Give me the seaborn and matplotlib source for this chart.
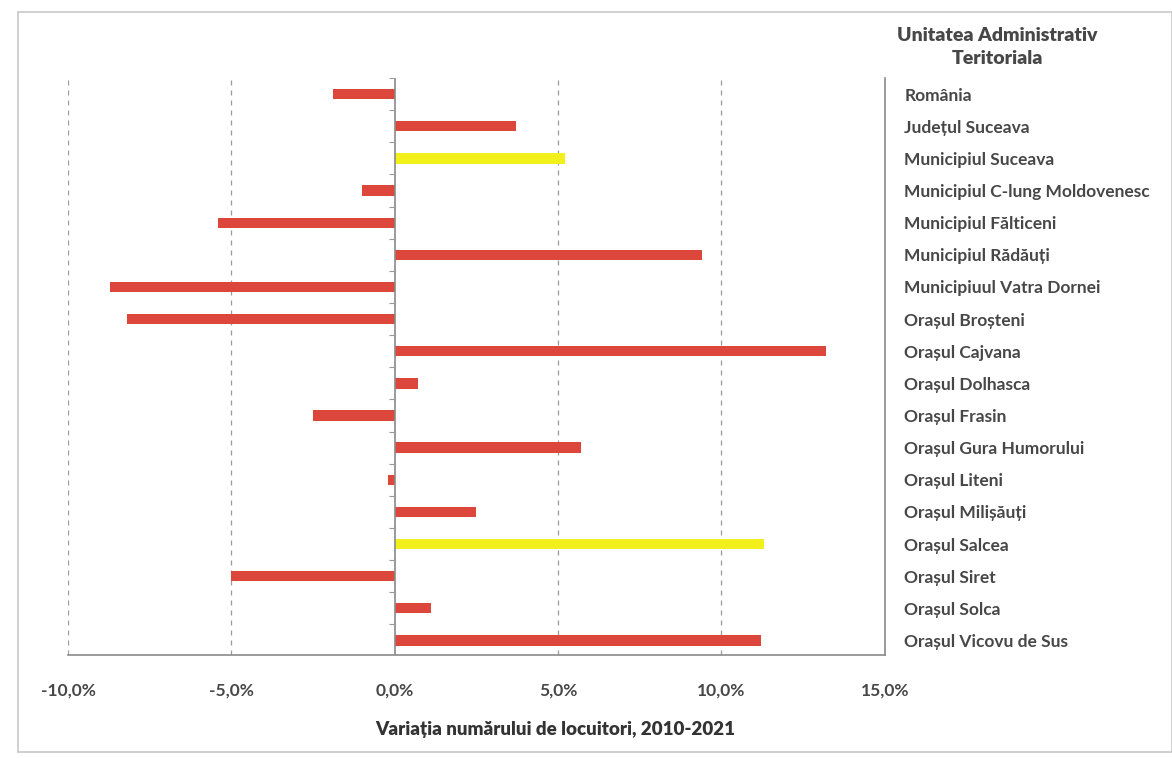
import matplotlib
matplotlib.use("Agg")
import matplotlib.pyplot as plt
import seaborn as sns
import pandas as pd
import numpy as np
from matplotlib.patches import Rectangle
from matplotlib.ticker import FuncFormatter

unitati = ["România", "Județul Suceava", "Municipiul Suceava",
           "Municipiul C-lung Moldovenesc", "Municipiul Fălticeni",
           "Municipiul Rădăuți", "Municipiuul Vatra Dornei", "Orașul Broșteni",
           "Orașul Cajvana", "Orașul Dolhasca", "Orașul Frasin",
           "Orașul Gura Humorului", "Orașul Liteni", "Orașul Milișăuți",
           "Orașul Salcea", "Orașul Siret", "Orașul Solca", "Orașul Vicovu de Sus"]
variatie = [-1.9, 3.7, 5.2, -1.0, -5.4, 9.4, -8.7, -8.2, 13.2, 0.7,
            -2.5, 5.7, -0.2, 2.5, 11.3, -5.0, 1.1, 11.2]
grup = ["rosu", "rosu", "galben", "rosu", "rosu", "rosu", "rosu", "rosu", "rosu",
        "rosu", "rosu", "rosu", "rosu", "rosu", "galben", "rosu", "rosu", "rosu"]
x_ticks = [-10, -5, 0, 5, 10, 15]

df = pd.DataFrame({"unitate": unitati, "variatie": variatie, "grup": grup})

sns.set_style("white")
plt.rcParams["font.family"] = ["Lato", "DejaVu Sans"]
text_col = "#474747"

fig = plt.figure(figsize=(11.72, 7.58), dpi=100)
ax = fig.add_axes([0.058, 0.136, 0.697, 0.761])

sns.barplot(data=df, x="variatie", y="unitate", hue="grup", orient="h",
            palette={"rosu": "#dc463b", "galben": "#f2f01a"}, width=0.32,
            saturation=1, dodge=False, legend=False, ax=ax, edgecolor="none")

ax.set_xlim(-10, 15)
ax.set_ylim(len(unitati) - 0.55, -0.5)
ax.set_xticks(x_ticks)
ax.xaxis.set_major_formatter(FuncFormatter(lambda v, p: f"{v:.1f}%".replace(".", ",")))

for v in x_ticks:
    if v in (0, 15):
        continue
    ax.axvline(v, color="#9a9a9a", lw=0.9, ls=(0, (4, 4)), zorder=0)
ax.axvline(0, color="#8a8a8a", lw=1.2, zorder=3)
ax.hlines(np.arange(len(unitati) + 1) - 0.5, -0.18, 0, color="#9a9a9a", lw=0.8, zorder=3)

for side in ["left", "top"]:
    ax.spines[side].set_visible(False)
ax.spines["right"].set_color("#8a8a8a")
ax.spines["bottom"].set_color("#8a8a8a")
ax.spines["right"].set_linewidth(1.2)
ax.spines["bottom"].set_linewidth(1.2)

ax.yaxis.tick_right()
ax.tick_params(axis="y", length=0, pad=14, labelsize=12.5, labelcolor=text_col)
ax.tick_params(axis="x", length=0, pad=20, labelsize=12.5, labelcolor=text_col)
for lab in ax.get_yticklabels() + ax.get_xticklabels():
    lab.set_fontweight("bold")
ax.set_xlabel("")
ax.set_ylabel("")

fig.text(0.851, 0.965, "Unitatea Administrativ\nTeritoriala", ha="center", va="top",
         fontsize=14, fontweight="heavy", color=text_col, linespacing=1.45)
fig.text(0.474, 0.026, "Variația numărului de locuitori, 2010-2021", ha="center",
         va="bottom", fontsize=13.5, fontweight="heavy", color="#333333")

fig.patches.append(Rectangle((0.015, 0.008), 0.985, 0.976, transform=fig.transFigure,
                             fill=False, edgecolor="#c8c8c8", lw=1.2))

fig.savefig("out.png", dpi=100)
